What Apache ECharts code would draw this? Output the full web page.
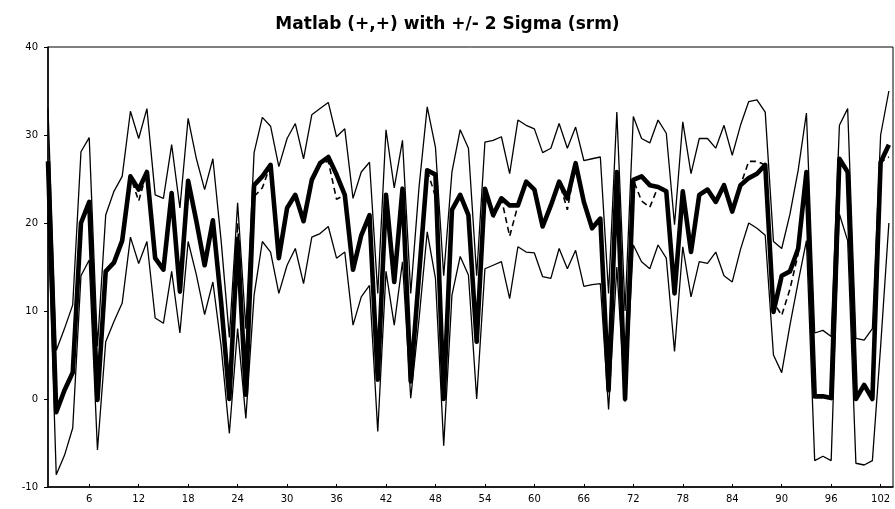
<!DOCTYPE html>
<html>
<head>
<meta charset="utf-8">
<script src="https://cdn.jsdelivr.net/npm/echarts@6/dist/echarts.min.js"></script>
<style>html,body{margin:0;padding:0;background:#fff}#c{width:895px;height:509px}</style>
</head>
<body>
<div id="c"></div>
<script>
const titleText = "Matlab (+,+) with +/- 2 Sigma (srm)";
const xTicks = [6,12,18,24,30,36,42,48,54,60,66,72,78,84,90,96,102];
const yTicks = [-10,0,10,20,30,40];

const meanVals = [27,-1.5,1,3,20,22.4,-0.1,14.5,15.5,18,
25.3,23.8,25.8,16,14.7,23.4,12.2,24.8,20.2,15.2,
20.3,11,0,18,0.5,24.3,25.3,26.6,16,21.7,
23.2,20.2,24.9,26.8,27.5,25.5,23.2,14.7,18.6,20.9,
2.2,23.2,13.3,23.9,2,14,26,25.5,0,21.5,
23.2,20.9,6.5,23.9,20.9,22.8,22,22,24.7,23.8,
19.6,22,24.7,22.8,26.8,22.4,19.4,20.5,1,25.8,
0,24.9,25.3,24.3,24.1,23.6,12,23.6,16.7,23.2,
23.8,22.4,24.3,21.3,24.3,25.1,25.6,26.6,9.9,14,
14.5,17.1,25.8,0.3,0.3,0.1,27.3,25.8,0,1.6,
0,26.9,28.9];

const dashedVals = [27,-1.5,1,3,20,22.4,-0.1,14.5,15.5,18,
25.3,22.5,25.8,16,14.7,23.4,12.5,24.8,20.2,15.2,
20.3,11,0,20,0.5,23,24,26.6,16,21.7,
23.2,20.2,24.9,26.8,27,22.7,23.2,14.7,18.6,20.9,
2.2,23.2,13.3,23.9,2,14,26,23,0,21.5,
23.2,20.9,6.5,23.9,20.5,22.8,18.5,22,24.7,23.8,
19.6,22,24.7,21.5,26.8,22.4,19.4,20.5,1,25.8,
0,24.9,22.5,21.8,24.1,23.6,12,23.6,16.7,23.2,
23.8,22.4,24.3,21.3,24.3,27,27,26.6,11,9.5,
12.5,16.5,25.8,0.3,0.3,0.1,27.3,25.8,0,1.8,
0,26.9,27.5];

const upperVals = [33,5.5,8,10.7,28.1,29.7,6,20.9,23.6,25.3,
32.7,29.6,33,23.2,22.8,28.9,21.7,31.9,27.3,23.8,
27.3,18,7,22.3,8,28,32,31,26.4,29.6,
31.3,27.3,32.3,33,33.7,29.8,30.7,22.8,25.8,26.9,
12,30.6,24,29.4,12,24,33.2,28.6,14,25.8,
30.6,28.5,14,29.2,29.4,29.8,25.6,31.7,31.1,30.7,
28,28.5,31.3,28.5,30.9,27.1,27.3,27.5,12,32.6,
10,32.1,29.6,29.1,31.7,30.2,19.8,31.5,25.6,29.6,
29.6,28.5,31.1,27.7,31.1,33.8,34,32.6,17.9,17.1,
21,26,32.5,7.5,7.8,7.1,31.1,33,6.9,6.7,
8,30,35];

const lowerVals = [21,-8.6,-6.4,-3.3,14,15.8,-5.8,6.5,8.8,10.9,
18.4,15.4,17.9,9.2,8.6,14.5,7.5,17.9,14.1,9.6,
13.3,6,-3.9,8,-2.2,11.8,17.9,16.7,12,15.2,
17.1,13.1,18.4,18.8,19.6,16,16.7,8.4,11.6,12.9,
-3.7,14.5,8.4,15.6,0.1,9,19,13.7,-5.3,11.8,
16.2,14.1,0,14.8,15.2,15.6,11.4,17.3,16.7,16.6,
13.9,13.7,17.1,14.8,16.9,12.8,13,13.1,-1.2,15,
-0.3,17.5,15.6,14.8,17.5,16,5.4,17.3,11.6,15.6,
15.4,16.7,14,13.3,17,20,19.4,18.6,5,3,
8.4,13.3,18,-7,-6.5,-7,21,18,-7.3,-7.5,
-7,6,20];

function pairs(arr){ return arr.map((v,i)=>[i+1,v]); }

const chart = echarts.init(document.getElementById('c'), null, {renderer:'canvas'});
const font = 'DejaVu Sans';
chart.setOption({
  backgroundColor:'#ffffff',
  animation:false,
  title:{
    text:titleText, left:'center', top:11,
    textStyle:{fontFamily:font, fontWeight:'bold', fontSize:17, color:'#000'}
  },
  grid:{left:48, right:2, top:47, bottom:22, show:true, borderColor:'#000', borderWidth:1, containLabel:false},
  xAxis:{
    type:'value', min:1, max:103.5,
    axisLine:{show:true, onZero:false, lineStyle:{color:'#000', width:1.5}},
    splitLine:{show:false},
    axisTick:{show:true, inside:true, length:3, customValues:xTicks, lineStyle:{color:'#000'}},
    axisLabel:{customValues:xTicks, margin:7, fontFamily:font, fontSize:10, color:'#000'}
  },
  yAxis:{
    type:'value', min:-10, max:40, interval:10,
    axisLine:{show:true, onZero:false, lineStyle:{color:'#000', width:1.5}},
    splitLine:{show:false},
    axisTick:{show:true, inside:false, length:4, lineStyle:{color:'#000'}},
    axisLabel:{margin:10, fontFamily:font, fontSize:10, color:'#000'}
  },
  series:[
    {type:'line', data:pairs(upperVals), symbol:'none', lineStyle:{color:'#000', width:1.3}, z:2},
    {type:'line', data:pairs(lowerVals), symbol:'none', lineStyle:{color:'#000', width:1.3}, z:2},
    {type:'line', data:pairs(dashedVals), symbol:'none', lineStyle:{color:'#000', width:1.6, type:[6,4]}, z:3},
    {type:'line', data:pairs(meanVals), symbol:'none', lineStyle:{color:'#000', width:4.6, join:'round'}, z:4}
  ]
});
</script>
</body>
</html>
